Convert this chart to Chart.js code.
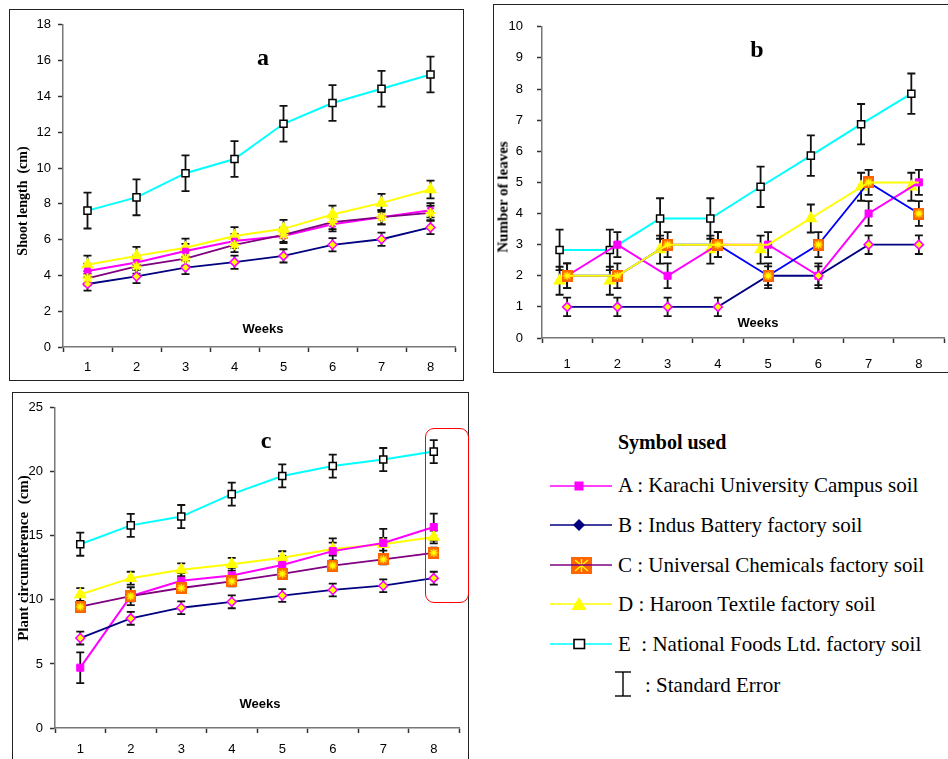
<!DOCTYPE html>
<html>
<head>
<meta charset="utf-8">
<script src="https://cdn.jsdelivr.net/npm/chart.js@4/dist/chart.umd.min.js"></script>
<style>
  html, body { margin: 0; padding: 0; background: #fff; }
  body { position: relative; width: 948px; height: 759px; overflow: hidden; }
  .frame { position: absolute; border: 1.5px solid #222; box-sizing: border-box; }
  canvas { position: absolute; }
  .txt { position: absolute; white-space: pre; color: #000; transform: translate(-50%, -50%); }
  .serif { font-family: "Liberation Serif", "Times New Roman", serif; }
  .sans { font-family: "Liberation Sans", Arial, sans-serif; }
  .rot { transform: translate(-50%, -50%) rotate(-90deg); }
  .leg { position: absolute; white-space: pre; font-family: "Liberation Serif", "Times New Roman", serif; font-size: 21px; color: #000; transform: translateY(-50%); }
  #hilite { position: absolute; left: 425px; top: 428px; width: 44px; height: 175px; border: 1.5px solid #FF0000; border-radius: 9px; box-sizing: border-box; }
</style>
</head>
<body>

<div class="frame" style="left:9px; top:9px; width:455px; height:372px;"></div>
<div class="frame" style="left:493px; top:4px; width:480px; height:369px;"></div>
<div class="frame" style="left:12px; top:392px; width:457px; height:400px;"></div>

<canvas id="chartA" width="453" height="368" style="left:10px; top:10px;"></canvas>
<canvas id="chartB" width="464" height="366" style="left:494px; top:5px;"></canvas>
<canvas id="chartC" width="455" height="370" style="left:13px; top:393px;"></canvas>

<div id="hilite"></div>

<!-- panel texts -->
<div class="txt serif" style="left:263px; top:57px; font-size:24px; font-weight:bold;">a</div>
<div class="txt serif rot" style="left:23px; top:201px; font-size:14px; font-weight:bold;">Shoot length  (cm)</div>
<div class="txt sans" style="left:263px; top:328px; font-size:13px; font-weight:bold;">Weeks</div>

<div class="txt serif" style="left:757px; top:49px; font-size:24px; font-weight:bold;">b</div>
<div class="txt serif rot" style="left:503px; top:197px; font-size:15px; font-weight:bold;">Number of leaves</div>
<div class="txt sans" style="left:758px; top:322px; font-size:13px; font-weight:bold;">Weeks</div>

<div class="txt serif" style="left:266px; top:440px; font-size:24px; font-weight:bold;">c</div>
<div class="txt serif rot" style="left:23px; top:558px; font-size:15px; font-weight:bold;">Plant circumference  (cm)</div>
<div class="txt sans" style="left:260px; top:703px; font-size:13px; font-weight:bold;">Weeks</div>

<!-- legend -->
<div class="leg" style="left:618px; top:442px; font-size:20px; font-weight:bold;">Symbol used</div>

<svg style="position:absolute; left:548px; top:470px;" width="90" height="230">
  <!-- A -->
  <line x1="2" y1="16" x2="64" y2="16" stroke="#FF00FF" stroke-width="1.5"/>
  <rect x="26.5" y="11.5" width="9" height="9" fill="#FF00FF"/>
  <!-- B -->
  <line x1="2" y1="55" x2="64" y2="55" stroke="#000080" stroke-width="1.5"/>
  <polygon points="31,49 37,55 31,61 25,55" fill="#000080"/>
  <!-- C -->
  <rect x="23" y="87" width="21" height="17" fill="#FF6600"/>
  <g stroke="#FFFF00" stroke-width="1.4">
    <line x1="33.5" y1="89" x2="33.5" y2="102"/>
    <line x1="27" y1="90" x2="40" y2="101"/>
    <line x1="40" y1="90" x2="27" y2="101"/>
  </g>
  <line x1="2" y1="95" x2="64" y2="95" stroke="#800080" stroke-width="1.5"/>
  <!-- D -->
  <line x1="2" y1="134" x2="64" y2="134" stroke="#FFFF00" stroke-width="1.5"/>
  <polygon points="31,127 38.5,140 23.5,140" fill="#FFFF00"/>
  <!-- E -->
  <line x1="2" y1="174" x2="64" y2="174" stroke="#00FFFF" stroke-width="1.5"/>
  <rect x="26" y="169.5" width="10.5" height="9" fill="#fff" stroke="#000" stroke-width="1.6"/>
  <!-- standard error -->
  <g stroke="#000" stroke-width="1.4">
    <line x1="75" y1="202" x2="75" y2="226"/>
    <line x1="67" y1="202" x2="83" y2="202"/>
    <line x1="67" y1="226" x2="83" y2="226"/>
  </g>
</svg>

<div class="leg" style="left:618px; top:485px;">A : Karachi University Campus soil</div>
<div class="leg" style="left:618px; top:525px;">B : Indus Battery factory soil</div>
<div class="leg" style="left:618px; top:565px;">C : Universal Chemicals factory soil</div>
<div class="leg" style="left:618px; top:604px;">D : Haroon Textile factory soil</div>
<div class="leg" style="left:618px; top:644px;">E  : National Foods Ltd. factory soil</div>
<div class="leg" style="left:645px; top:685px;">: Standard Error</div>

<script>
// ---- data ----
const weeks = ['1', '2', '3', '4', '5', '6', '7', '8'];

// a : shoot length (cm)
const shootA = [4.25, 4.72, 5.36, 5.92, 6.2, 6.86, 7.25, 7.64];
const shootB = [3.52, 3.94, 4.44, 4.74, 5.09, 5.71, 6.02, 6.68];
const shootC = [3.84, 4.5, 4.94, 5.7, 6.27, 6.98, 7.25, 7.49];
const shootD = [4.6, 5.09, 5.55, 6.2, 6.6, 7.4, 8.05, 8.8];
const shootE = [7.62, 8.36, 9.71, 10.5, 12.47, 13.63, 14.43, 15.22];
const shootSeA = [0.4, 0.4, 0.4, 0.4, 0.4, 0.4, 0.4, 0.4];
const shootSeB = [0.37, 0.37, 0.37, 0.37, 0.37, 0.37, 0.37, 0.37];
const shootSeC = [0.4, 0.4, 0.4, 0.4, 0.4, 0.4, 0.4, 0.4];
const shootSeD = [0.5, 0.5, 0.5, 0.5, 0.5, 0.5, 0.5, 0.5];
const shootSeE = [1.0, 1.0, 1.0, 1.0, 1.0, 1.0, 1.0, 1.0];

// b : number of leaves
const leavesA = [2, 3, 2, 3, 3, 2, 4, 5];
const leavesB = [1, 1, 1, 1, 2, 2, 3, 3];
const leavesC = [2, 2, 3, 3, 2, 3, 5, 4];
const leavesD = [2, 2, 3, 3, 3, 4, 5, 5];
const leavesDMarks = [1.84, 1.84, 2.84, 2.84, 2.84, 3.84, 4.86, 4.86];
const leavesE = [2.83, 2.83, 3.84, 3.84, 4.86, 5.86, 6.87, 7.85];
const leavesSeA = [0.4, 0.4, 0.4, 0.4, 0.4, 0.4, 0.4, 0.4];
const leavesSeB = [0.3, 0.3, 0.3, 0.3, 0.3, 0.3, 0.3, 0.3];
const leavesSeC = [0.4, 0.4, 0.4, 0.4, 0.4, 0.4, 0.4, 0.4];
const leavesSeD = [0.45, 0.45, 0.45, 0.45, 0.45, 0.45, 0.45, 0.45];
const leavesSeE = [0.65, 0.65, 0.65, 0.65, 0.65, 0.65, 0.65, 0.65];

// c : plant circumference (cm)
const circA = [4.71, 10.29, 11.5, 11.91, 12.73, 13.81, 14.45, 15.69];
const circB = [7.02, 8.56, 9.39, 9.85, 10.34, 10.78, 11.11, 11.7];
const circC = [9.47, 10.29, 10.93, 11.45, 12.04, 12.68, 13.17, 13.68];
const circD = [10.42, 11.7, 12.35, 12.78, 13.3, 13.97, 14.35, 14.92];
const circE = [14.35, 15.82, 16.51, 18.26, 19.68, 20.45, 20.96, 21.58];
const circSeA = [1.2, 0.7, 0.6, 0.6, 0.7, 1.0, 1.1, 1.05];
const circSeB = [0.5, 0.5, 0.5, 0.5, 0.5, 0.5, 0.5, 0.5];
const circSeC = [0.4, 0.4, 0.4, 0.4, 0.4, 0.4, 0.4, 0.4];
const circSeD = [0.5, 0.5, 0.5, 0.5, 0.5, 0.5, 0.5, 0.5];
const circSeE = [0.9, 0.9, 0.9, 0.9, 0.9, 0.9, 0.9, 0.9];

// ---- markers & styles ----
Chart.defaults.font.family = '"Liberation Sans", Arial, sans-serif';
Chart.defaults.font.size = 13;
Chart.defaults.color = '#000';

function orangeStar(w, h) {
    const c = document.createElement('canvas');
    c.width = w; c.height = h;
    const g = c.getContext('2d');
    g.fillStyle = '#FF6600';
    g.fillRect(0, 0, w, h);
    g.strokeStyle = '#FFFF00';
    g.lineWidth = 1.3;
    const cx = w / 2, cy = h / 2, r = Math.min(w, h) / 2 - 1.5;
    g.beginPath();
    g.moveTo(cx, cy - r); g.lineTo(cx, cy + r);
    g.moveTo(cx - r, cy); g.lineTo(cx + r, cy);
    g.moveTo(cx - r * 0.75, cy - r * 0.75); g.lineTo(cx + r * 0.75, cy + r * 0.75);
    g.moveTo(cx + r * 0.75, cy - r * 0.75); g.lineTo(cx - r * 0.75, cy + r * 0.75);
    g.stroke();
    return c;
}
const cMark = orangeStar(11, 12);

const styleA = { borderColor: '#FF00FF', backgroundColor: '#FF00FF', pointStyle: 'rect', pointRadius: 5, pointBorderWidth: 1, borderWidth: 2, order: 3 };
const styleB = { borderColor: '#000080', pointBackgroundColor: '#FFFF00', pointBorderColor: '#FF00FF', pointStyle: 'rectRot', pointRadius: 4.5, pointBorderWidth: 1.5, borderWidth: 1.8, order: 2 };
const styleC = { borderColor: '#800080', pointStyle: cMark, borderWidth: 1.8, order: 1 };
const styleD = { borderColor: '#FFFF00', backgroundColor: '#FFFF00', pointStyle: 'triangle', pointRadius: 5.5, borderWidth: 2, order: 4 };
const styleE = { borderColor: '#00FFFF', pointBackgroundColor: '#FFFFFF', pointBorderColor: '#000', pointStyle: 'rect', pointRadius: 5, pointBorderWidth: 1.5, borderWidth: 2, order: 5 };

function series(label, values, se, style, shift) {
    return Object.assign({
        label: label,
        data: values.map((v, i) => ({ x: i + 1 + (shift || 0), y: v })),
        se: se
    }, style);
}

// ---- error bars through the y scale ----
const errorBars = {
    id: 'errorBars',
    beforeDatasetsDraw(chart) {
        const ctx = chart.ctx;
        const yScale = chart.scales.y;
        chart.data.datasets.forEach((ds, i) => {
            if (!ds.se) return;
            const meta = chart.getDatasetMeta(i);
            meta.data.forEach((pt, j) => {
                const v = ds.data[j].y;
                const top = yScale.getPixelForValue(v + ds.se[j]);
                const bot = yScale.getPixelForValue(v - ds.se[j]);
                ctx.save();
                ctx.strokeStyle = '#111';
                ctx.lineWidth = 1.8;
                ctx.beginPath();
                ctx.moveTo(pt.x, top); ctx.lineTo(pt.x, bot);
                ctx.moveTo(pt.x - 4, top); ctx.lineTo(pt.x + 4, top);
                ctx.moveTo(pt.x - 4, bot); ctx.lineTo(pt.x + 4, bot);
                ctx.stroke();
                ctx.restore();
            });
        });
    }
};

function makeChart(id, datasets, yMax, yStep, dims) {
    return new Chart(document.getElementById(id), {
        type: 'line',
        data: { datasets: datasets },
        options: {
            responsive: false,
            animation: false,
            devicePixelRatio: 1,
            layout: { padding: { top: dims.top, left: 0, right: 0, bottom: 0 } },
            plugins: { legend: { display: false }, tooltip: { enabled: false } },
            elements: { line: { tension: 0 } },
            scales: {
                x: {
                    type: 'linear', min: 0.5, max: 8.5,
                    afterFit: s => { s.height = dims.xh; },
                    ticks: {
                        stepSize: 0.5, autoSkip: false, maxRotation: 0, padding: dims.xpad,
                        callback: v => Number.isInteger(v) ? weeks[v - 1] : ''
                    },
                    grid: {
                        drawOnChartArea: false, tickLength: 5, tickWidth: 1.5,
                        tickColor: c => (c.tick && Number.isInteger(c.tick.value)) ? 'rgba(0,0,0,0)' : '#333'
                    },
                    border: { color: '#777', width: 1.5 }
                },
                y: {
                    min: 0, max: yMax,
                    afterFit: s => { s.width = dims.yw; },
                    ticks: { stepSize: yStep, padding: dims.ypad },
                    grid: { drawOnChartArea: false, tickLength: 5, tickWidth: 1.5, tickColor: '#333' },
                    border: { color: '#777', width: 1.5 }
                }
            }
        },
        plugins: [errorBars]
    });
}

// a
makeChart('chartA', [
    series('A', shootA, shootSeA, Object.assign({}, styleA, { pointRadius: 4 })),
    series('B', shootB, shootSeB, styleB),
    series('C', shootC, shootSeC, Object.assign({}, styleC, { pointStyle: 'star', pointRadius: 5, pointBorderColor: '#FFFF00', pointBorderWidth: 2 })),
    series('D', shootD, shootSeD, styleD),
    series('E', shootE, shootSeE, styleE)
], 18, 2, { top: 12, yw: 53, xh: 31, xpad: 8, ypad: 7 });

// b
makeChart('chartB', [
    Object.assign(series('D line', leavesD, null, styleD), { pointRadius: 0, order: 0 }),
    series('A', leavesA, leavesSeA, styleA),
    series('B', leavesB, leavesSeB, styleB),
    series('C', leavesC, leavesSeC, Object.assign({}, styleC, { borderColor: '#0000FF' })),
    Object.assign(series('D', leavesDMarks, leavesSeD, styleD, -0.15), { showLine: false }),
    series('E', leavesE, leavesSeE, styleE, -0.15)
], 10, 1, { top: 15, yw: 48, xh: 33, xpad: 14, ypad: 14 });

// c
makeChart('chartC', [
    series('A', circA, circSeA, styleA),
    series('B', circB, circSeB, styleB),
    series('C', circC, circSeC, styleC),
    series('D', circD, circSeD, styleD),
    series('E', circE, circSeE, styleE)
], 25, 5, { top: 11, yw: 42, xh: 35, xpad: 9, ypad: 7 });
</script>
</body>
</html>
